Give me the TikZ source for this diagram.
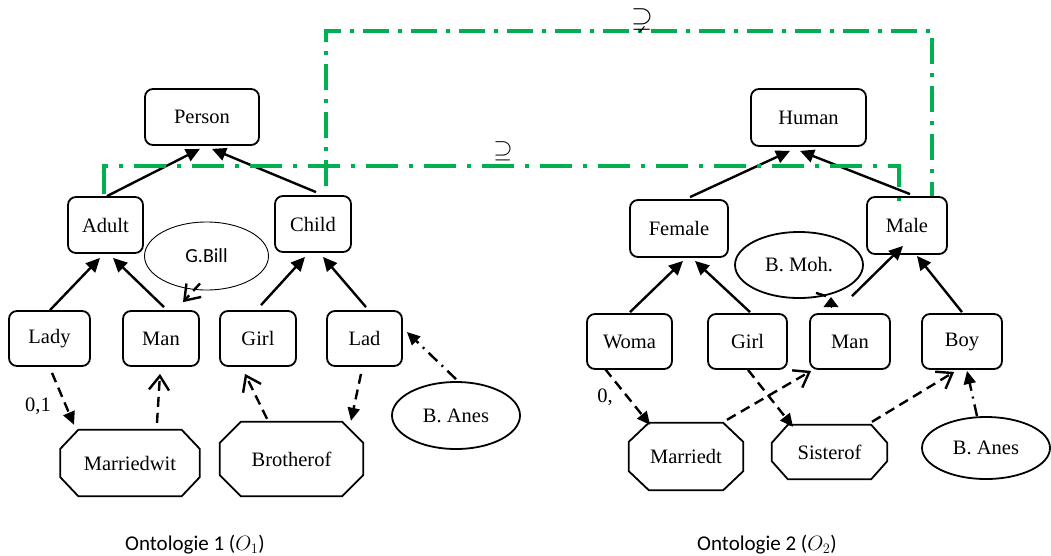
\documentclass[tikz,border=0pt]{standalone}
\usepackage{amssymb}
\usepackage{fontspec}
\setmainfont{Liberation Serif}
\newfontfamily\calib{Carlito}
\usetikzlibrary{arrows.meta,calc,shapes.geometric}
\definecolor{ogreen}{RGB}{0,176,80}

\tikzset{
  every node/.style={font=\fontsize{20.5pt}{24pt}\selectfont, inner sep=0pt},
  concept/.style={draw, line width=1.8pt, rounded corners=8pt, minimum height=56pt},
  instance/.style={draw, ellipse, line width=1.8pt},
  relbox/.style={inner sep=0pt},
  isa/.style={line width=2.4pt, -{Triangle[length=14pt,width=13pt]}},
  rel/.style={line width=2.4pt, dash pattern=on 10pt off 6pt, -{Triangle[length=13pt,width=12pt]}},
  relopen/.style={line width=2.4pt, dash pattern=on 10pt off 6pt, -{Straight Barb[length=14pt,width=20pt]}},
  inst/.style={line width=2.4pt, dash pattern=on 12pt off 6pt on 2pt off 6pt, -{Triangle[length=13pt,width=12pt]}},
  alignlow/.style={ogreen, line width=4pt, dash pattern=on 32pt off 11pt on 4pt off 11pt},
  alignhigh/.style={ogreen, line width=4pt, dash pattern=on 26pt off 9pt on 4pt off 9pt},
  relsym/.style={font=\fontsize{28pt}{30pt}\selectfont},
}

% octagon drawn round a named node: #2 = horizontal chamfer, #3 = vertical chamfer
\newcommand\octa[3]{%
  \draw[line width=1.8pt]
    ($(#1.north west)+(#2,0)$) -- ($(#1.north east)+(-#2,0)$)
    -- ($(#1.north east)+(0,#3)$) -- ($(#1.south east)+(0,-#3)$)
    -- ($(#1.south east)+(-#2,0)$) -- ($(#1.south west)+(#2,0)$)
    -- ($(#1.south west)+(0,-#3)$) -- ($(#1.north west)+(0,#3)$) -- cycle;}

\begin{document}
\begin{tikzpicture}[x=1pt,y=-1pt]
\useasboundingbox (0,0) rectangle (1051,555);

% ---------- Ontology 1 ----------
\node[concept, minimum width=114pt] (person) at (202,117) {Person};
\node[concept, minimum width=75pt]  (adult)  at (105.5,225) {Adult};
\node[concept, minimum width=76pt]  (child)  at (313,224) {Child};
\node[concept, minimum width=81pt, minimum height=55pt] (lady)  at (49.5,338.5) {Lady};
\node[concept, minimum width=76pt, minimum height=55pt] (man1)  at (161,338.5) {Man};
\node[concept, minimum width=76pt, minimum height=55pt] (girl1) at (258,338.5) {Girl};
\node[concept, minimum width=75pt, minimum height=55pt] (lad)   at (364.5,338.5) {Lad};
\node[draw, ellipse, line width=0.9pt, minimum width=124pt, minimum height=68pt,
      font=\calib\fontsize{20pt}{24pt}\selectfont] (gbill) at (206.5,256) {G.Bill};
\node[instance, minimum width=128pt, minimum height=67pt] (anes1) at (456,415.5) {B. Anes};
\node[relbox, minimum width=139pt, minimum height=66pt] (mw)  at (130,463) {Marriedwit};
\node[relbox, minimum width=143pt, minimum height=74pt] (bro) at (291.5,459) {Brotherof};
\octa{mw}{18}{19}
\octa{bro}{21}{21}
\node (card1) at (38,406) {0,1};

\draw[isa] ($(lady.north)+(0.5,0)$)  -- ($(adult.south)+(-5.5,4)$);
\draw[isa] ($(man1.north)+(3,-3)$)   -- ($(adult.south)+(7.5,4)$);
\draw[isa] ($(girl1.north)+(3,-5)$)  -- ($(child.south)+(-8,4)$);
\draw[isa] ($(lad.north)+(1.5,-3)$)  -- ($(child.south)+(10,4)$);
\draw[isa] ($(adult.north)+(1.5,0)$) -- ($(person.south)+(-2,3)$);
\draw[isa] ($(child.north)+(3,-3)$)  -- ($(person.south)+(10,3)$);

\draw[rel]     ($(lady.south)+(2.5,6)$)   -- ($(mw.north)+(-56,-5)$);
\draw[relopen] ($(mw.north)+(27,-7)$)     -- ($(man1.south)+(-1,7)$);
\draw[relopen] ($(bro.north)+(-24.5,-3)$) -- ($(girl1.south)+(-13,7)$);
\draw[rel]     ($(lad.south)+(-3.5,7)$)   -- ($(bro.north)+(59.5,-1)$);
\draw[inst]    ($(anes1.north)+(0,-2)$)   -- ($(lad.east)+(4,-6.5)$);
\draw[relopen] ($(gbill.south)+(-6.5,-7)$) -- ($(man1.north)+(22,-8)$);

% ---------- Ontology 2 ----------
\node[concept, minimum width=115pt, minimum height=57pt] (human)  at (808.5,117.5) {Human};
\node[concept, minimum width=98pt, minimum height=57pt]  (female) at (679,228.5) {Female};
\node[concept, minimum width=80pt, minimum height=57pt]  (male)   at (907,225.5) {Male};
\node[concept, minimum width=85pt, minimum height=55pt] (woma)  at (629.5,341.5) {Woma};
\node[concept, minimum width=79pt, minimum height=55pt] (girl2) at (747.5,341.5) {Girl};
\node[concept, minimum width=80pt, minimum height=55pt] (man2)  at (850,341.5) {Man};
\node[concept, minimum width=80pt, minimum height=55pt] (boy)   at (962,341.5) {Boy};
\node[instance, minimum width=128pt, minimum height=66pt] (bmoh)  at (799,265) {B. Moh.};
\node[instance, minimum width=128pt, minimum height=62pt] (anes2) at (986,448) {B. Anes};
\node[relbox, minimum width=114pt, minimum height=67pt] (md)  at (686,456.5) {Marriedt};
\node[relbox, minimum width=115pt, minimum height=54pt] (sis) at (829.5,452) {Sisterof};
\octa{md}{20}{19}
\octa{sis}{16}{18}
\node (card2) at (605,397) {0,};

\draw[isa] ($(female.north)+(11,-2)$) -- ($(human.south)+(-18.5,4)$);
\draw[isa] ($(male.north)+(3,-2)$)    -- ($(human.south)+(-8.5,4)$);
\draw[isa] ($(woma.north)+(0.5,-1)$)  -- ($(female.south)+(4,3)$);
\draw[isa] ($(girl2.north)+(2.5,-1)$) -- ($(female.south)+(16,3)$);
\draw[isa] ($(man2.north)+(2,-17)$)   -- ($(male.south)+(-4,-9)$);
\draw[isa] ($(boy.north)+(0,-1)$)     -- ($(male.south)+(10,1)$);

\draw[rel]     ($(woma.south)+(-24.5,-1)$) -- ($(md.north)+(-36,2)$);
\draw[rel]     ($(girl2.south)+(0.5,0)$)   -- ($(sis.north)+(-36.5,2)$);
\draw[relopen] ($(md.north)+(41,-3)$)      -- ($(man2.south west)+(2,1)$);
\draw[relopen] ($(sis.north)+(42.5,-3)$)   -- ($(boy.south west)+(33,2)$);
\draw[inst]    ($(anes2.north)+(-9,0)$)    -- ($(boy.south)+(5,1)$);
\draw[line width=2.4pt] ($(bmoh.south)+(17,-6)$) -- ($(man2.north)+(-24,-17)$);
\draw[line width=1pt, -{Triangle[length=10pt,width=15pt]}]
  ($(man2.north)+(-19,-5)$) -- ($(man2.north)+(-19,-16)$);

% ---------- alignments ----------
\draw[alignhigh] ($(child.north)+(13,-9)$) -- ++(0,-155) -| ($(male.north)+(25,0)$);
\draw[alignlow]  ($(adult.north)+(-1.5,-2)$) -- ++(0,-28) -| ($(male.north)+(-8,5)$);
\node[relsym] (supA) at (642,19) {$\supsetneq$};
\node[relsym] (supB) at (503,151) {$\supseteq$};

% ---------- captions ----------
\node[font=\calib\fontsize{21pt}{25pt}\selectfont] (cap1) at (195,545) {Ontologie 1 ($O_1$)};
\node[font=\calib\fontsize{21pt}{25pt}\selectfont] (cap2) at (767,545) {Ontologie 2 ($O_2$)};
\end{tikzpicture}
\end{document}
